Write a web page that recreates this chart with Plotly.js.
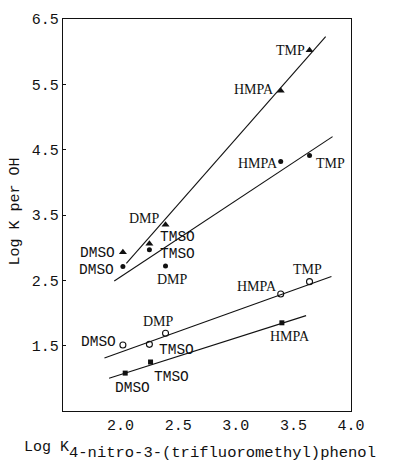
<!DOCTYPE html>
<html><head><meta charset="utf-8">
<script src="https://cdn.plot.ly/plotly-3.0.1.min.js"></script>
<style>html,body{margin:0;padding:0;background:#fff}#c{width:395px;height:461px}</style>
</head><body><div id="c"></div>
<script>
const solvents = ["DMSO","TMSO","DMP","HMPA","TMP"];
const xRef = [2.02, 2.25, 2.39, 3.39, 3.64];
const yTri = [2.93, 3.06, 3.35, 5.40, 6.02];
const yDot = [2.71, 2.97, 2.72, 4.32, 4.41];
const yOpen = [1.51, 1.52, 1.69, 2.29, 2.48];
const sqSolvents = ["DMSO","TMSO","HMPA"];
const xSq = [2.04, 2.26, 3.40];
const ySq = [1.08, 1.25, 1.85];
const fitTriX = [2.05, 3.78], fitTriY = [2.76, 6.23];
const fitDotX = [1.945, 3.84], fitDotY = [2.49, 4.70];
const fitOpenX = [1.86, 3.83], fitOpenY = [1.31, 2.56];
const fitSqX = [1.90, 3.61], fitSqY = [1.00, 1.96];
const xTicks = [2.0, 2.5, 3.0, 3.5, 4.0];
const yTicks = [1.5, 2.5, 3.5, 4.5, 5.5, 6.5];

const lineStyle = {color:'#111', width:1.1};
const traces = [
  {x:fitTriX, y:fitTriY, mode:'lines', line:lineStyle},
  {x:fitDotX, y:fitDotY, mode:'lines', line:lineStyle},
  {x:fitOpenX, y:fitOpenY, mode:'lines', line:lineStyle},
  {x:fitSqX, y:fitSqY, mode:'lines', line:lineStyle},
  {x:xRef, y:yTri, mode:'markers', marker:{symbol:'triangle-up', size:7, color:'#111'}},
  {x:xRef, y:yDot, mode:'markers', marker:{symbol:'circle', size:5, color:'#111'}},
  {x:xRef, y:yOpen, mode:'markers', marker:{symbol:'circle-open', size:6, color:'#111', line:{width:1.1}}},
  {x:xSq, y:ySq, mode:'markers', marker:{symbol:'square', size:5, color:'#111'}}
];

const mono = {family:'Liberation Mono, DejaVu Sans Mono, monospace', size:14.5, color:'#111'};
const serif = {family:'Liberation Serif, DejaVu Serif, serif', size:14, color:'#111'};
function fontFor(s){ return (s==="DMSO"||s==="TMSO") ? mono : serif; }

// pixel offsets of labels relative to their points [dx, dy(down)]
const offTri = {DMSO:[-25,1], TMSO:[28,-7], DMP:[-21,-6], HMPA:[-27,-1], TMP:[-19,0]};
const offDot = {DMSO:[-26,3], TMSO:[28,4], DMP:[7,14], HMPA:[-23,2], TMP:[21,8]};
const offOpen = {DMSO:[-24,-3], TMSO:[27,6], DMP:[-7,-12], HMPA:[-24,-8], TMP:[-2,-12]};
const offSq = {DMSO:[7,15], TMSO:[21,15], HMPA:[8,14]};

const annotations = [];
function addLabels(names, xs, ys, off){
  names.forEach((s,i)=>{
    const o = off[s];
    annotations.push({x:xs[i], y:ys[i], xref:'x', yref:'y', text:s, showarrow:false, borderpad:0,
      xshift:o[0], yshift:-o[1], font:fontFor(s), xanchor:'center', yanchor:'middle'});
  });
}
addLabels(solvents, xRef, yTri, offTri);
addLabels(solvents, xRef, yDot, offDot);
addLabels(solvents, xRef, yOpen, offOpen);
addLabels(sqSolvents, xSq, ySq, offSq);

annotations.push({xref:'paper', yref:'paper', x:-0.165, y:0.51, text:'Log K per OH', textangle:-90,
  showarrow:false, font:{family:mono.family, size:15, color:'#111'}, xanchor:'center', yanchor:'middle'});
annotations.push({xref:'paper', yref:'paper', x:-0.143, y:-0.092, text:'Log K', showarrow:false,
  font:{family:mono.family, size:15, color:'#111'}, xanchor:'left', yanchor:'middle'});
annotations.push({xref:'paper', yref:'paper', x:0.017, y:-0.107, text:'4-nitro-3-(trifluoromethyl)phenol', showarrow:false,
  borderpad:0, font:{family:mono.family, size:15.5, color:'#111'}, xanchor:'left', yanchor:'middle'});

const layout = {
  width:395, height:461, showlegend:false,
  margin:{l:63, r:44, t:19, b:50},
  paper_bgcolor:'#fff', plot_bgcolor:'#fff',
  xaxis:{range:[1.5,4.0], tickvals:xTicks, ticktext:xTicks.map(v=>v.toFixed(1)),
    showgrid:false, zeroline:false, showline:true, mirror:true, linecolor:'#111', linewidth:1.2,
    ticks:'', tickfont:{family:mono.family, size:15, color:'#111'}},
  yaxis:{range:[0.5,6.5], tickvals:yTicks, ticktext:yTicks.map(v=>v.toFixed(1)),
    showgrid:false, zeroline:false, showline:true, mirror:true, linecolor:'#111', linewidth:1.2,
    ticks:'inside', ticklen:3, tickcolor:'#111', tickfont:{family:mono.family, size:15, color:'#111'}},
  annotations:annotations
};
Plotly.newPlot('c', traces, layout, {staticPlot:true, displayModeBar:false});
</script></body></html>
